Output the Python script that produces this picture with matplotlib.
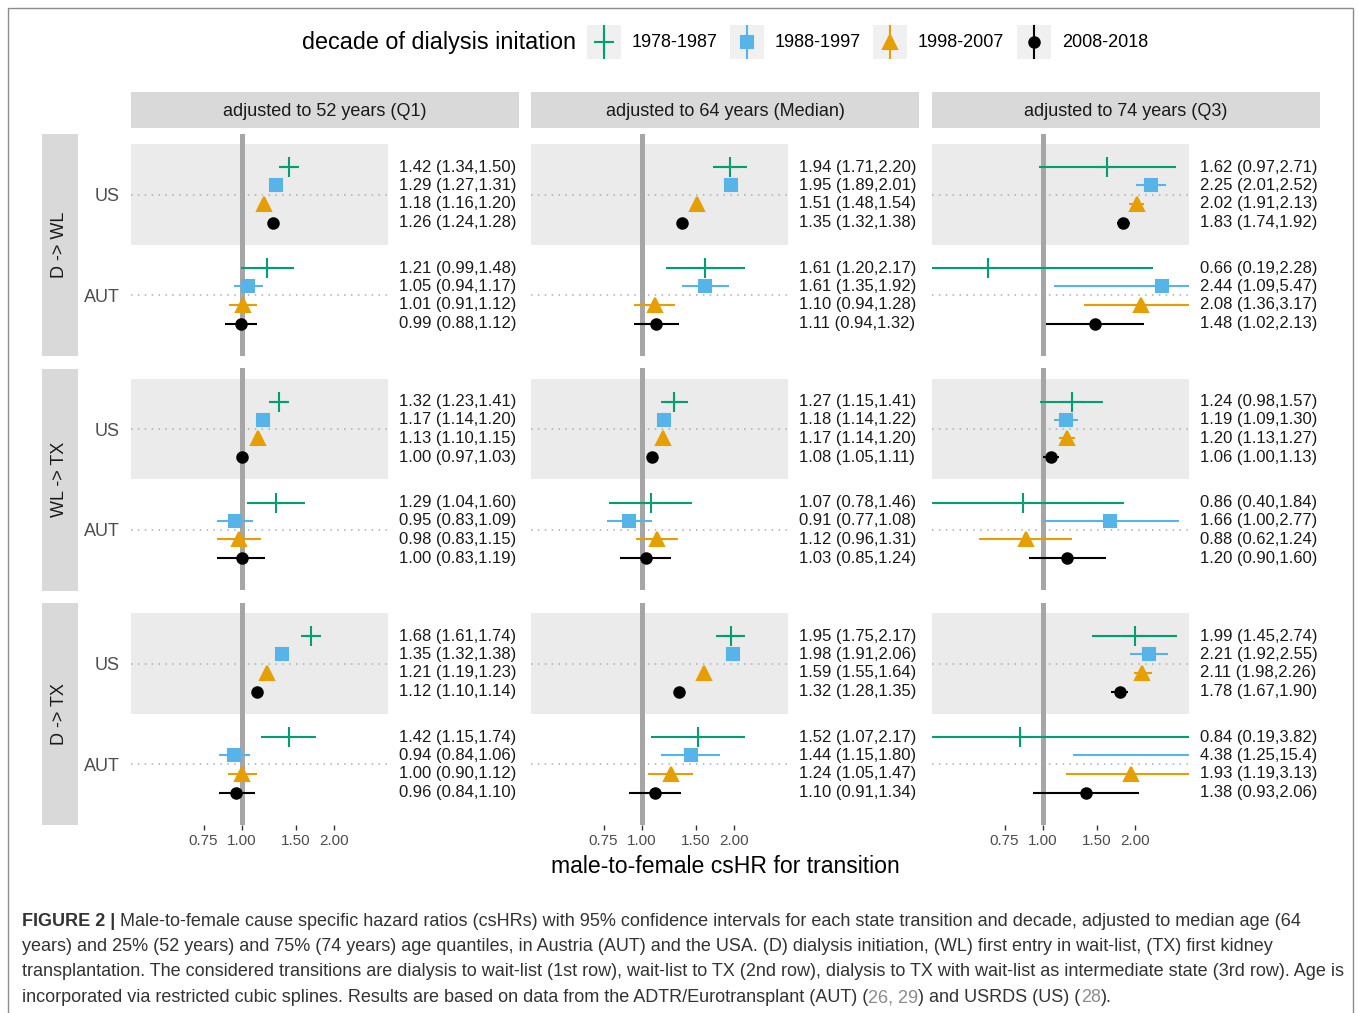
import matplotlib
matplotlib.use("Agg")
import matplotlib.pyplot as plt
from matplotlib.patches import Rectangle
from matplotlib.ticker import NullLocator
import numpy as np

plt.rcParams['font.family'] = ['Liberation Sans', 'DejaVu Sans']

W, H = 1358, 1013

# ---- data -------------------------------------------------------------
decades = ["1978-1987", "1988-1997", "1998-2007", "2008-2018"]
countries = ["US", "AUT"]
transitions = ["D -> WL", "WL -> TX", "D -> TX"]
ages = ["adjusted to 52 years (Q1)", "adjusted to 64 years (Median)",
        "adjusted to 74 years (Q3)"]
x_ticks = [0.75, 1.00, 1.50, 2.00]

# [age][country][decade]
est_d_wl = [[[1.42, 1.29, 1.18, 1.26], [1.21, 1.05, 1.01, 0.99]],
            [[1.94, 1.95, 1.51, 1.35], [1.61, 1.61, 1.10, 1.11]],
            [[1.62, 2.25, 2.02, 1.83], [0.66, 2.44, 2.08, 1.48]]]
lo_d_wl = [[[1.34, 1.27, 1.16, 1.24], [0.99, 0.94, 0.91, 0.88]],
           [[1.71, 1.89, 1.48, 1.32], [1.20, 1.35, 0.94, 0.94]],
           [[0.97, 2.01, 1.91, 1.74], [0.19, 1.09, 1.36, 1.02]]]
hi_d_wl = [[[1.50, 1.31, 1.20, 1.28], [1.48, 1.17, 1.12, 1.12]],
           [[2.20, 2.01, 1.54, 1.38], [2.17, 1.92, 1.28, 1.32]],
           [[2.71, 2.52, 2.13, 1.92], [2.28, 5.47, 3.17, 2.13]]]

est_wl_tx = [[[1.32, 1.17, 1.13, 1.00], [1.29, 0.95, 0.98, 1.00]],
             [[1.27, 1.18, 1.17, 1.08], [1.07, 0.91, 1.12, 1.03]],
             [[1.24, 1.19, 1.20, 1.06], [0.86, 1.66, 0.88, 1.20]]]
lo_wl_tx = [[[1.23, 1.14, 1.10, 0.97], [1.04, 0.83, 0.83, 0.83]],
            [[1.15, 1.14, 1.14, 1.05], [0.78, 0.77, 0.96, 0.85]],
            [[0.98, 1.09, 1.13, 1.00], [0.40, 1.00, 0.62, 0.90]]]
hi_wl_tx = [[[1.41, 1.20, 1.15, 1.03], [1.60, 1.09, 1.15, 1.19]],
            [[1.41, 1.22, 1.20, 1.11], [1.46, 1.08, 1.31, 1.24]],
            [[1.57, 1.30, 1.27, 1.13], [1.84, 2.77, 1.24, 1.60]]]

est_d_tx = [[[1.68, 1.35, 1.21, 1.12], [1.42, 0.94, 1.00, 0.96]],
            [[1.95, 1.98, 1.59, 1.32], [1.52, 1.44, 1.24, 1.10]],
            [[1.99, 2.21, 2.11, 1.78], [0.84, 4.38, 1.93, 1.38]]]
lo_d_tx = [[[1.61, 1.32, 1.19, 1.10], [1.15, 0.84, 0.90, 0.84]],
           [[1.75, 1.91, 1.55, 1.28], [1.07, 1.15, 1.05, 0.91]],
           [[1.45, 1.92, 1.98, 1.67], [0.19, 1.25, 1.19, 0.93]]]
hi_d_tx = [[[1.74, 1.38, 1.23, 1.14], [1.74, 1.06, 1.12, 1.10]],
           [[2.17, 2.06, 1.64, 1.35], [2.17, 1.80, 1.47, 1.34]],
           [[2.74, 2.55, 2.26, 1.90], [3.82, 15.4, 3.13, 2.06]]]

est_all = [est_d_wl, est_wl_tx, est_d_tx]
lo_all = [lo_d_wl, lo_wl_tx, lo_d_tx]
hi_all = [hi_d_wl, hi_wl_tx, hi_d_tx]

# ---- styles -----------------------------------------------------------
colors = ["#009E73", "#56B4E9", "#E69F00", "#000000"]
markers = ["+", "s", "^", "o"]
msizes = [14, 8.3, 9.5, 7.5]
offsets = [0.27, 0.09, -0.09, -0.28]   # dodge of decades around row
XMIN, XMAX, XCUT = 0.435, 8.0, 3.0

col_left = [131, 531, 932]
row_top = [134, 368.5, 603]
pw, ph = 388, 222


def fmt(v):
    return f"{v:.2f}" if v < 10 else f"{v:.1f}"


def box(x, y, w, h):
    # pixel box (top-left origin) -> figure fraction
    return [x / W, 1 - (y + h) / H, w / W, h / H]


fig = plt.figure(figsize=(W / 100, H / 100), dpi=100)

# overlay in pixel coordinates for strips, legend, caption
ov = fig.add_axes([0, 0, 1, 1])
ov.set_xlim(0, W)
ov.set_ylim(H, 0)
ov.axis('off')

for r in range(3):
    for c in range(3):
        ax = fig.add_axes(box(col_left[c], row_top[r], pw, ph))
        ax.set_xscale('log')
        ax.set_xlim(XMIN, XMAX)
        ax.set_ylim(0.4, 2.6)
        for s in ax.spines.values():
            s.set_visible(False)
        ax.add_patch(Rectangle((XMIN, 1.5), XCUT - XMIN, 1.0,
                               color='#ebebeb', lw=0, zorder=0))
        ax.axvline(1, color='#a6a6a6', lw=3.6, zorder=1)
        for yy in (1, 2):
            ax.plot([XMIN, XCUT], [yy, yy], ls=(0, (1, 3.5)),
                    color='#adadad', lw=1.1, zorder=1)
        for k in range(2):
            y0 = 2 - k
            for d in range(4):
                e = est_all[r][c][k][d]
                lo = lo_all[r][c][k][d]
                hi = hi_all[r][c][k][d]
                y = y0 + offsets[d]
                ax.plot([lo, min(hi, XCUT)], [y, y], color=colors[d],
                        lw=1.5, solid_capstyle='butt', zorder=2)
                if e <= XCUT:
                    ax.plot(e, y, marker=markers[d], ms=msizes[d],
                            color=colors[d], mew=1.5, ls='none', zorder=3)
                ax.text(3.25, y, f"{fmt(e)} ({fmt(lo)},{fmt(hi)})",
                        fontsize=12, color='#1a1a1a', va='center', ha='left')
        ax.set_yticks([1, 2])
        if c == 0:
            ax.set_yticklabels(["AUT", "US"])
        else:
            ax.set_yticklabels([])
        ax.tick_params(axis='y', length=0, pad=8, labelsize=13,
                       labelcolor='#4d4d4d')
        ax.xaxis.set_minor_locator(NullLocator())
        if r == 2:
            ax.set_xticks(x_ticks)
            ax.set_xticklabels([f"{t:.2f}" for t in x_ticks])
            ax.tick_params(axis='x', length=3.5, width=1, color='#333333',
                           pad=3, labelsize=11, labelcolor='#4d4d4d')
        else:
            ax.set_xticks([])

# strips
for c in range(3):
    ov.add_patch(Rectangle((col_left[c], 92), pw, 36, color='#d9d9d9', lw=0))
    ov.text(col_left[c] + pw / 2, 111, ages[c], fontsize=13,
            color='#1a1a1a', ha='center', va='center')
for r in range(3):
    ov.add_patch(Rectangle((42, row_top[r]), 36, ph, color='#d9d9d9', lw=0))
    ov.text(60, row_top[r] + ph / 2, transitions[r], fontsize=13,
            color='#1a1a1a', ha='center', va='center', rotation=90)

# x label
ov.text(725, 866, "male-to-female csHR for transition", fontsize=16.6,
        color='black', ha='center', va='center')

# legend
ov.text(302, 42, "decade of dialysis initation", fontsize=16.8,
        color='black', ha='left', va='center')
key_x = [604, 747, 890, 1034]
for d in range(4):
    ov.add_patch(Rectangle((key_x[d] - 17, 25), 34, 34, color='#f0f0f0', lw=0))
    ov.plot([key_x[d], key_x[d]], [26, 58], color=colors[d], lw=1.5)
    ov.plot(key_x[d], 42, marker=markers[d], ms=msizes[d], color=colors[d],
            mew=1.5, ls='none')
    ov.text(key_x[d] + 28, 42, decades[d], fontsize=13, color='black',
            ha='left', va='center')

# outer frame
ov.add_patch(Rectangle((8, 8), 1345, 1030, fill=False, edgecolor='#8c8c8c',
                       lw=1, clip_on=False))

# caption
dark, cite = '#333333', '#8c8c8c'
cap_lines = [
    [("FIGURE 2 |", 'bold', dark),
     (" Male-to-female cause specific hazard ratios (csHRs) with 95% confidence "
      "intervals for each state transition and decade, adjusted to median age (64",
      'normal', dark)],
    [("years) and 25% (52 years) and 75% (74 years) age quantiles, in Austria (AUT) "
      "and the USA. (D) dialysis initiation, (WL) first entry in wait-list, (TX) first kidney",
      'normal', dark)],
    [("transplantation. The considered transitions are dialysis to wait-list (1st row), "
      "wait-list to TX (2nd row), dialysis to TX with wait-list as intermediate state "
      "(3rd row). Age is", 'normal', dark)],
    [("incorporated via restricted cubic splines. Results are based on data from the "
      "ADTR/Eurotransplant (AUT) (", 'normal', dark),
     ("26, 29", 'normal', cite),
     (") and USRDS (US) (", 'normal', dark),
     ("28", 'normal', cite),
     (").", 'normal', dark)],
]
cap_base = [926, 951, 976, 1002]
renderer = fig.canvas.get_renderer()


def draw_line(parts, x, y, size):
    texts = []
    for s, wt, col in parts:
        t = ov.text(x, y, s, fontsize=size, fontweight=wt, color=col,
                    ha='left', va='baseline')
        x += t.get_window_extent(renderer).width
        texts.append(t)
    return texts, x


# fit caption size to the width of the first line
trial, end = draw_line(cap_lines[0], 22, cap_base[0], 12)
for t in trial:
    t.remove()
cap_size = 12 * (1300 - 22) / (end - 22)
for parts, yb in zip(cap_lines, cap_base):
    draw_line(parts, 22, yb, cap_size)

fig.savefig("out.png", dpi=100)
